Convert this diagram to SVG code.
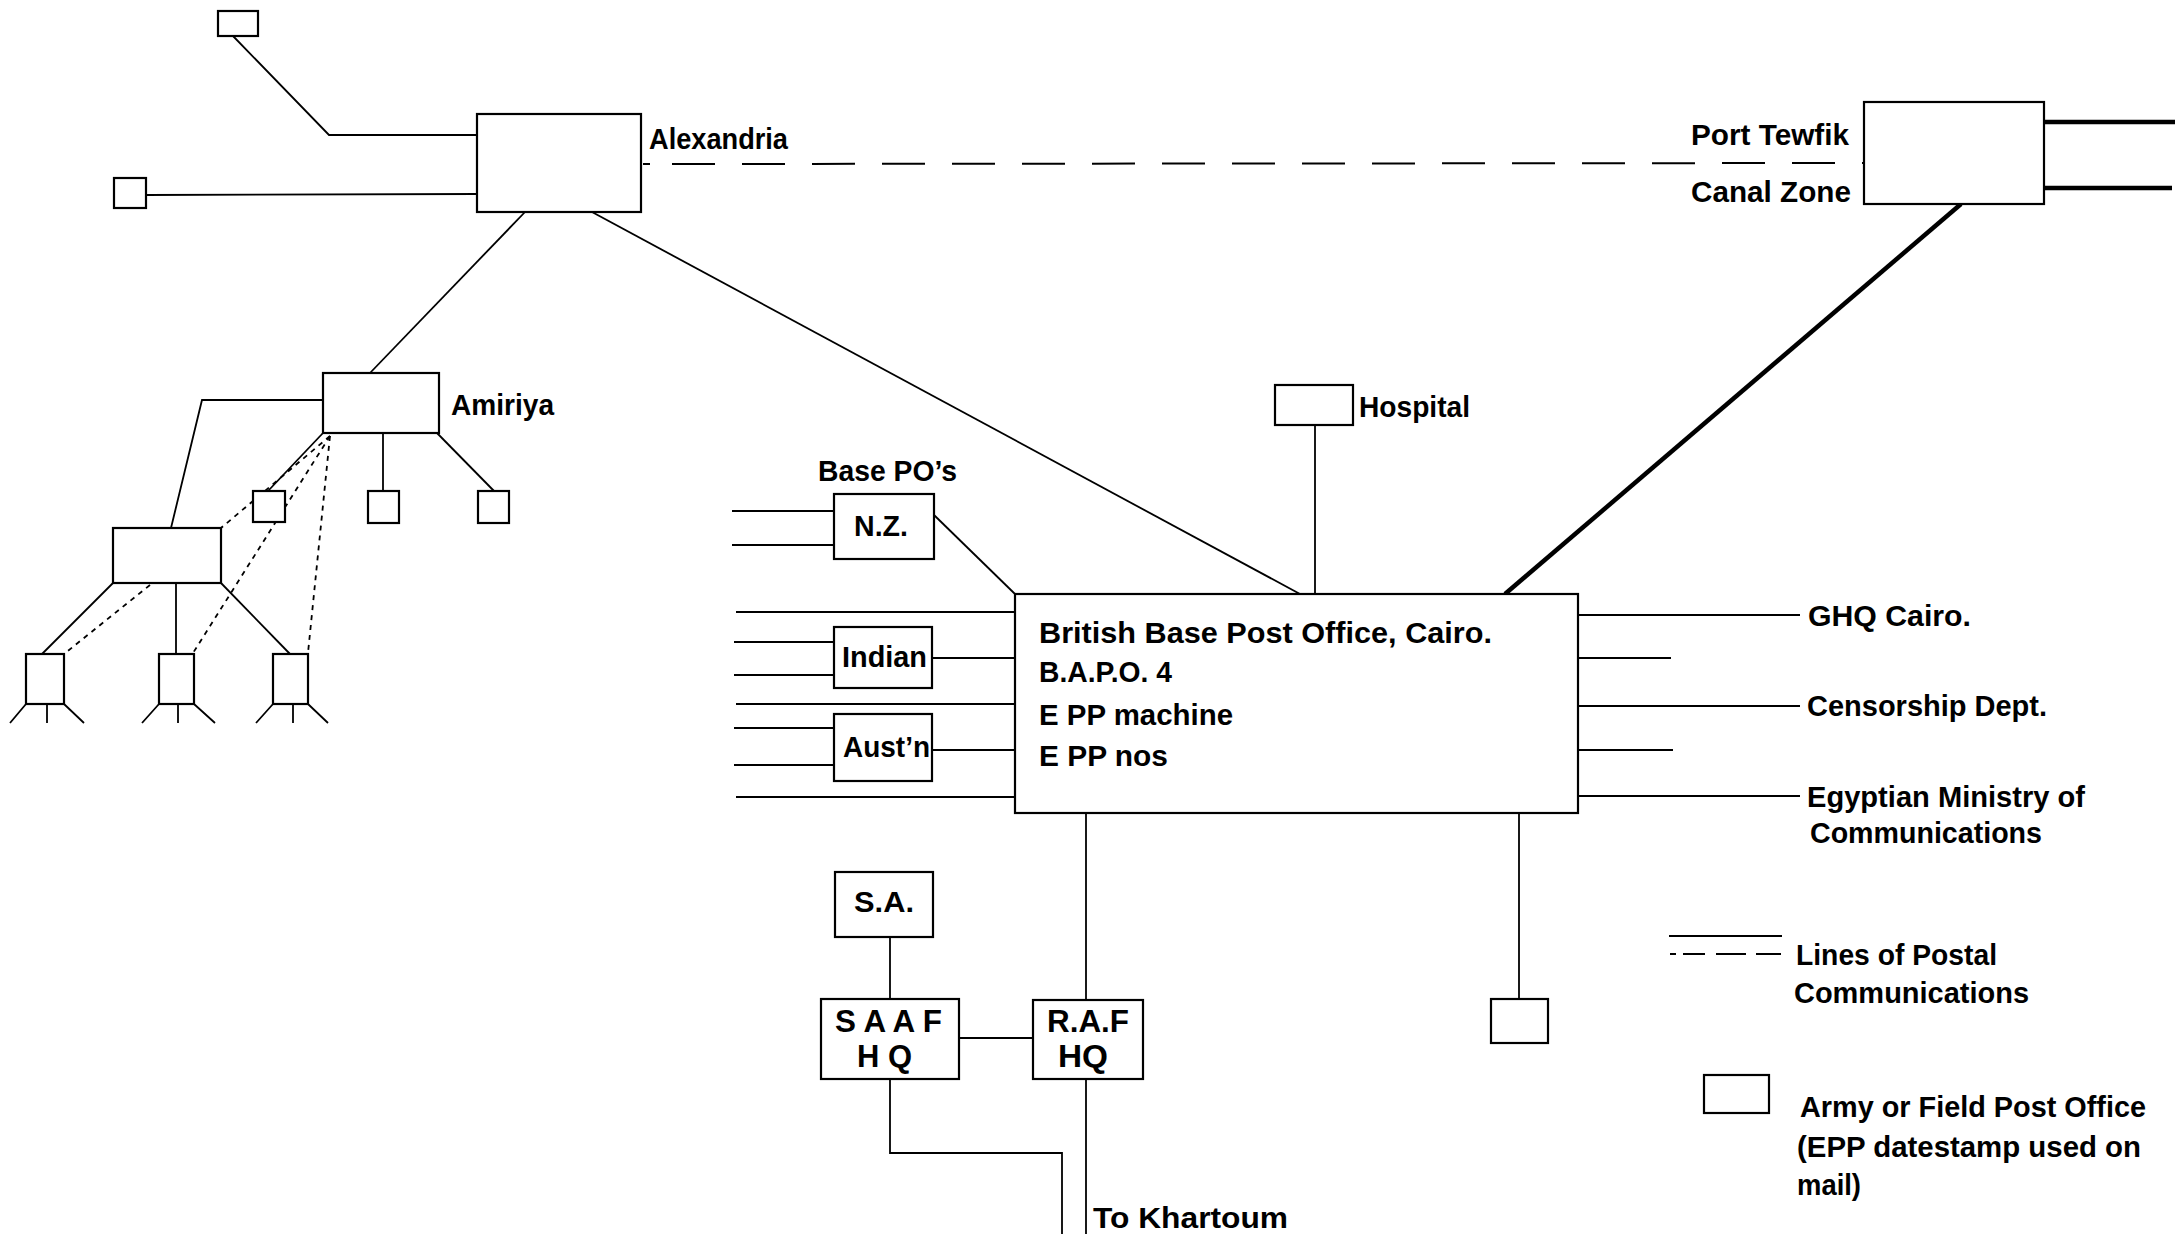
<svg xmlns="http://www.w3.org/2000/svg" width="2175" height="1234" viewBox="0 0 2175 1234">
<style>
  .ln { stroke: #000; stroke-width: 1.8; fill: none; }
  .thick { stroke: #000; stroke-width: 4.5; fill: none; }
  .dash { stroke: #000; stroke-width: 2; fill: none; stroke-dasharray: 43 27; }
  .dot { stroke: #000; stroke-width: 1.8; fill: none; stroke-dasharray: 5 5; }
  .box { stroke: #000; stroke-width: 2.2; fill: #fff; }
  text { font-family: "Liberation Sans", Arial, sans-serif; font-weight: bold; font-size: 29px; fill: #000; }
  .sp { font-size: 31px; }
</style>
<rect x="0" y="0" width="2175" height="1234" fill="#fff"/>

<g id="connectors">
  <!-- Alexandria feeders -->
  <polyline class="ln" points="233,36 329,135 477,135"/>
  <line class="ln" x1="146" y1="195" x2="477" y2="194"/>
  <!-- Alexandria - Port Tewfik dashed -->
  <line class="dash" x1="643" y1="164" x2="650" y2="164" style="stroke-dasharray:none"/>
  <line class="dash" x1="672" y1="164" x2="1864" y2="163"/>
  <!-- Alexandria - Amiriya -->
  <line class="ln" x1="525" y1="212" x2="370" y2="373"/>
  <!-- Alexandria - BBPO -->
  <line class="ln" x1="592" y1="212" x2="1300" y2="594"/>
  <!-- Port Tewfik thick -->
  <line class="thick" x1="1961" y1="204" x2="1505" y2="594"/>
  <line class="thick" x1="2044" y1="122" x2="2175" y2="122"/>
  <line class="thick" x1="2044" y1="188" x2="2172" y2="188"/>
  <!-- Amiriya network -->
  <polyline class="ln" points="323,400 202,400 171,528"/>
  <line class="ln" x1="323" y1="433" x2="268" y2="491"/>
  <line class="ln" x1="383" y1="433" x2="383" y2="491"/>
  <line class="ln" x1="437" y1="433" x2="494" y2="491"/>
  <line class="dot" x1="330" y1="436" x2="221" y2="528"/>
  <line class="dot" x1="330" y1="436" x2="193" y2="653"/>
  <line class="dot" x1="330" y1="436" x2="308" y2="653"/>
  <line class="dot" x1="150" y1="585" x2="64" y2="654"/>
  <line class="ln" x1="113" y1="583" x2="42" y2="654"/>
  <line class="ln" x1="176" y1="583" x2="176" y2="654"/>
  <line class="ln" x1="221" y1="583" x2="290" y2="654"/>
  <!-- stand legs -->
  <path class="ln" d="M26,704 L10,723 M47,704 L47,723 M64,704 L84,723"/>
  <path class="ln" d="M159,704 L142,723 M178,704 L178,723 M194,704 L215,723"/>
  <path class="ln" d="M273,704 L256,723 M293,704 L293,723 M308,704 L328,723"/>
  <!-- Hospital -->
  <line class="ln" x1="1315" y1="425" x2="1315" y2="594"/>
  <!-- Base POs -->
  <line class="ln" x1="732" y1="511" x2="834" y2="511"/>
  <line class="ln" x1="732" y1="545" x2="834" y2="545"/>
  <line class="ln" x1="934" y1="515" x2="1015" y2="594"/>
  <line class="ln" x1="736" y1="612" x2="1015" y2="612"/>
  <line class="ln" x1="734" y1="642" x2="834" y2="642"/>
  <line class="ln" x1="734" y1="675" x2="834" y2="675"/>
  <line class="ln" x1="932" y1="658" x2="1015" y2="658"/>
  <line class="ln" x1="736" y1="704" x2="1015" y2="704"/>
  <line class="ln" x1="734" y1="728" x2="834" y2="728"/>
  <line class="ln" x1="734" y1="765" x2="834" y2="765"/>
  <line class="ln" x1="932" y1="750" x2="1015" y2="750"/>
  <line class="ln" x1="736" y1="797" x2="1015" y2="797"/>
  <!-- right side -->
  <line class="ln" x1="1578" y1="615" x2="1800" y2="615"/>
  <line class="ln" x1="1578" y1="658" x2="1671" y2="658"/>
  <line class="ln" x1="1578" y1="706" x2="1800" y2="706"/>
  <line class="ln" x1="1578" y1="750" x2="1673" y2="750"/>
  <line class="ln" x1="1578" y1="796" x2="1800" y2="796"/>
  <line class="ln" x1="1519" y1="813" x2="1519" y2="999"/>
  <!-- bottom -->
  <line class="ln" x1="1086" y1="813" x2="1086" y2="1000"/>
  <line class="ln" x1="1086" y1="1079" x2="1086" y2="1234"/>
  <line class="ln" x1="890" y1="937" x2="890" y2="999"/>
  <line class="ln" x1="959" y1="1038" x2="1033" y2="1038"/>
  <polyline class="ln" points="890,1079 890,1153 1062,1153 1062,1234"/>
</g>

<g id="n-top"><rect class="box" x="218" y="11" width="40" height="25"/></g>
<g id="n-left"><rect class="box" x="114" y="178" width="32" height="30"/></g>
<g id="n-alexandria">
  <rect class="box" x="477" y="114" width="164" height="98"/>
  <text x="649" y="149" textLength="139" lengthAdjust="spacingAndGlyphs">Alexandria</text>
</g>
<g id="n-porttewfik">
  <rect class="box" x="1864" y="102" width="180" height="102"/>
  <text x="1691" y="145" textLength="158" lengthAdjust="spacingAndGlyphs">Port Tewfik</text>
  <text x="1691" y="202" textLength="160" lengthAdjust="spacingAndGlyphs">Canal Zone</text>
</g>
<g id="n-amiriya">
  <rect class="box" x="323" y="373" width="116" height="60"/>
  <text x="451" y="415" textLength="103" lengthAdjust="spacingAndGlyphs">Amiriya</text>
</g>
<g id="n-am1"><rect class="box" x="253" y="491" width="32" height="31"/></g>
<g id="n-am2"><rect class="box" x="368" y="491" width="31" height="32"/></g>
<g id="n-am3"><rect class="box" x="478" y="491" width="31" height="32"/></g>
<g id="n-lowerleft"><rect class="box" x="113" y="528" width="108" height="55"/></g>
<g id="n-stand1"><rect class="box" x="26" y="654" width="38" height="50"/></g>
<g id="n-stand2"><rect class="box" x="159" y="654" width="35" height="50"/></g>
<g id="n-stand3"><rect class="box" x="273" y="654" width="35" height="50"/></g>
<g id="n-hospital">
  <rect class="box" x="1275" y="385" width="78" height="40"/>
  <text x="1359" y="417" textLength="111" lengthAdjust="spacingAndGlyphs">Hospital</text>
</g>
<g id="n-basepos">
  <text x="818" y="481" textLength="139" lengthAdjust="spacingAndGlyphs">Base PO’s</text>
</g>
<g id="n-nz">
  <rect class="box" x="834" y="494" width="100" height="65"/>
  <text x="854" y="536" textLength="54" lengthAdjust="spacingAndGlyphs">N.Z.</text>
</g>
<g id="n-indian">
  <rect class="box" x="834" y="627" width="98" height="61"/>
  <text x="842" y="667" textLength="85" lengthAdjust="spacingAndGlyphs">Indian</text>
</g>
<g id="n-austn">
  <rect class="box" x="834" y="714" width="98" height="67"/>
  <text x="843" y="757" textLength="87" lengthAdjust="spacingAndGlyphs">Aust’n</text>
</g>
<g id="n-bbpo">
  <rect class="box" x="1015" y="594" width="563" height="219"/>
  <text x="1039" y="643" textLength="453" lengthAdjust="spacingAndGlyphs">British Base  Post Office, Cairo.</text>
  <text x="1039" y="682" textLength="133" lengthAdjust="spacingAndGlyphs">B.A.P.O. 4</text>
  <text x="1039" y="725" textLength="194" lengthAdjust="spacingAndGlyphs">E PP machine</text>
  <text x="1039" y="766" textLength="129" lengthAdjust="spacingAndGlyphs">E PP nos</text>
</g>
<g id="n-ghq"><text x="1808" y="626" textLength="163" lengthAdjust="spacingAndGlyphs">GHQ Cairo.</text></g>
<g id="n-censorship"><text x="1807" y="716" textLength="240" lengthAdjust="spacingAndGlyphs">Censorship Dept.</text></g>
<g id="n-egyptian">
  <text x="1807" y="807" textLength="278" lengthAdjust="spacingAndGlyphs">Egyptian Ministry of</text>
  <text x="1810" y="843" textLength="232" lengthAdjust="spacingAndGlyphs">Communications</text>
</g>
<g id="n-bottomright"><rect class="box" x="1491" y="999" width="57" height="44"/></g>
<g id="n-sa">
  <rect class="box" x="835" y="872" width="98" height="65"/>
  <text x="854" y="912" textLength="60" lengthAdjust="spacingAndGlyphs">S.A.</text>
</g>
<g id="n-saaf">
  <rect class="box" x="821" y="999" width="138" height="80"/>
  <text class="sp" x="835" y="1032" textLength="107" lengthAdjust="spacingAndGlyphs">S A A F</text>
  <text class="sp" x="857" y="1067" textLength="55" lengthAdjust="spacingAndGlyphs">H Q</text>
</g>
<g id="n-raf">
  <rect class="box" x="1033" y="1000" width="110" height="79"/>
  <text class="sp" x="1047" y="1032" textLength="82" lengthAdjust="spacingAndGlyphs">R.A.F</text>
  <text class="sp" x="1058" y="1067" textLength="50" lengthAdjust="spacingAndGlyphs">HQ</text>
</g>
<g id="n-khartoum"><text x="1093" y="1228" textLength="195" lengthAdjust="spacingAndGlyphs">To Khartoum</text></g>

<g id="legend">
  <line class="ln" x1="1669" y1="936" x2="1782" y2="936"/>
  <path class="ln" stroke-width="2.2" d="M1670,954 H1676 M1683,954 H1705 M1716,954 H1746 M1756,954 H1781"/>
  <text x="1796" y="965" textLength="201" lengthAdjust="spacingAndGlyphs">Lines of Postal</text>
  <text x="1794" y="1003" textLength="235" lengthAdjust="spacingAndGlyphs">Communications</text>
  <rect class="box" x="1704" y="1075" width="65" height="38"/>
  <text x="1800" y="1117" textLength="346" lengthAdjust="spacingAndGlyphs">Army or Field Post Office</text>
  <text x="1797" y="1157" textLength="344" lengthAdjust="spacingAndGlyphs">(EPP datestamp used on</text>
  <text x="1797" y="1195" textLength="64" lengthAdjust="spacingAndGlyphs">mail)</text>
</g>
</svg>
